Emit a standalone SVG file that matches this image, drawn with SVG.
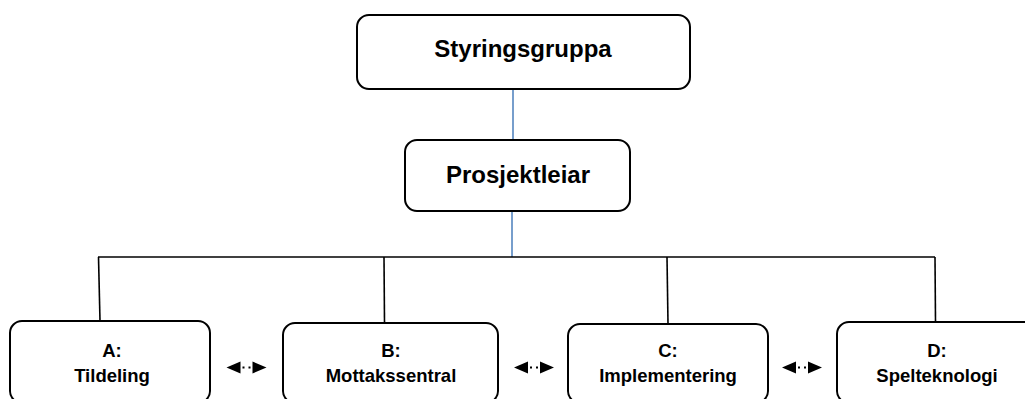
<svg xmlns="http://www.w3.org/2000/svg" xmlns:xlink="http://www.w3.org/1999/xlink" width="1025" height="399" viewBox="0 0 1025 399">
  <style>
    .box { fill: #ffffff; stroke: #000000; stroke-width: 2; }
    .title { font-family: "Liberation Sans", Arial, sans-serif; font-weight: bold; font-size: 24px; fill: #000000; text-anchor: middle; }
    .label { font-family: "Liberation Sans", Arial, sans-serif; font-weight: bold; font-size: 18.5px; fill: #000000; text-anchor: middle; }
    .blue { stroke: #4a7ebb; stroke-width: 1.5; fill: none; }
    .tree { stroke: #000000; stroke-width: 1.6; fill: none; }
  </style>
  <defs>
    <g id="dblarrow">
      <polygon points="-20,0 -6,-6 -6,6" fill="#000"/>
      <polygon points="20,0 6,-6 6,6" fill="#000"/>
      <rect x="-4" y="-1" width="2" height="2" fill="#000"/>
      <rect x="2" y="-1" width="2" height="2" fill="#000"/>
    </g>
  </defs>
  <rect width="1025" height="399" fill="#ffffff"/>

  <g id="connectors">
    <line class="blue" x1="513" y1="89" x2="513" y2="140"/>
    <line class="blue" x1="512" y1="211" x2="512" y2="257"/>
    <line class="tree" x1="98" y1="257" x2="935" y2="257"/>
    <line class="tree" x1="98.5" y1="257" x2="100" y2="321"/>
    <line class="tree" x1="384" y1="257" x2="384.5" y2="323"/>
    <line class="tree" x1="667" y1="257" x2="668" y2="324"/>
    <line class="tree" x1="935" y1="257" x2="935.5" y2="322"/>
    <use xlink:href="#dblarrow" href="#dblarrow" x="246.5" y="367.5"/>
    <use xlink:href="#dblarrow" href="#dblarrow" x="534" y="367.5"/>
    <use xlink:href="#dblarrow" href="#dblarrow" x="802" y="367.5"/>
  </g>

  <g id="styringsgruppa">
    <rect class="box" x="357" y="15" width="333" height="74" rx="12" ry="12"/>
    <text class="title" x="523" y="57">Styringsgruppa</text>
  </g>

  <g id="prosjektleiar">
    <rect class="box" x="405" y="140" width="225" height="71" rx="12" ry="12"/>
    <text class="title" x="518" y="183">Prosjektleiar</text>
  </g>

  <g id="node-a">
    <rect class="box" x="10" y="321" width="200" height="82" rx="12" ry="12"/>
    <text class="label" x="112" y="357">A:</text>
    <text class="label" x="112" y="382">Tildeling</text>
  </g>

  <g id="node-b">
    <rect class="box" x="283" y="323" width="215" height="80" rx="12" ry="12"/>
    <text class="label" x="391" y="357">B:</text>
    <text class="label" x="391" y="382">Mottakssentral</text>
  </g>

  <g id="node-c">
    <rect class="box" x="568" y="324" width="200" height="79" rx="12" ry="12"/>
    <text class="label" x="668" y="357">C:</text>
    <text class="label" x="668" y="382">Implementering</text>
  </g>

  <g id="node-d">
    <rect class="box" x="837" y="322" width="200" height="81" rx="12" ry="12"/>
    <text class="label" x="937" y="357">D:</text>
    <text class="label" x="937" y="382">Spelteknologi</text>
  </g>
</svg>
